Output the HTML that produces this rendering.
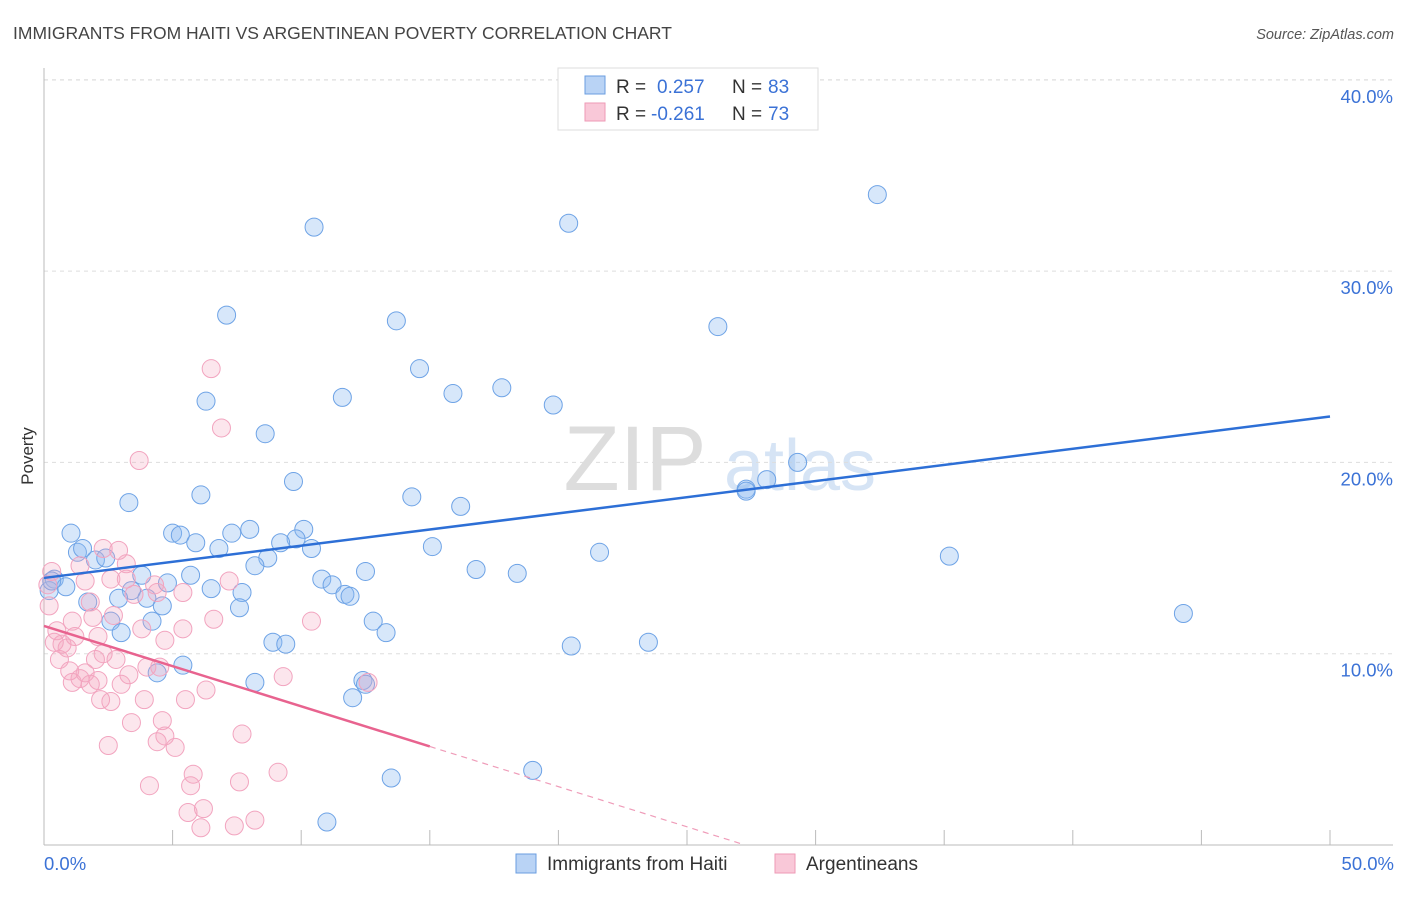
<!DOCTYPE html>
<html><head><meta charset="utf-8"><style>
body{margin:0;background:#fff;font-family:"Liberation Sans",sans-serif}
svg text{font-family:"Liberation Sans",sans-serif}
</style></head><body>
<svg id="c" width="1406" height="892" xmlns="http://www.w3.org/2000/svg">
<text x="13" y="39" font-size="17.5" fill="#444">IMMIGRANTS FROM HAITI VS ARGENTINEAN POVERTY CORRELATION CHART</text>
<text x="1394" y="39" font-size="14.5" fill="#555" font-style="italic" text-anchor="end">Source: ZipAtlas.com</text>
<text x="33" y="456" font-size="17" fill="#333" text-anchor="middle" transform="rotate(-90 33 456)">Poverty</text>
<g id="wm"><text x="635" y="490" font-size="92" fill="#ddd" font-family="Liberation Serif" text-anchor="middle">ZIP</text><text x="800" y="490" font-size="72" fill="#d6e4f5" text-anchor="middle">atlas</text></g>
<g id="grid"></g><g id="axes"></g><g id="marks"></g><g id="lines"></g>
<g>
<rect x="558" y="68" width="260" height="62" fill="#fff" stroke="#ddd"/>
<rect x="585" y="76" width="20" height="18" fill="#b9d3f5" stroke="#6a9ee0"/>
<rect x="585" y="103" width="20" height="18" fill="#f9c8d8" stroke="#ee9ab6"/>
<text x="616" y="93" font-size="19" fill="#333">R =</text><text x="657" y="93" font-size="19" fill="#3b72d6">0.257</text>
<text x="732" y="93" font-size="19" fill="#333">N =</text><text x="768" y="93" font-size="19" fill="#3b72d6">83</text>
<text x="616" y="120" font-size="19" fill="#333">R =</text><text x="651" y="120" font-size="19" fill="#3b72d6">-0.261</text>
<text x="732" y="120" font-size="19" fill="#333">N =</text><text x="768" y="120" font-size="19" fill="#3b72d6">73</text>
</g>
<g>
<rect x="516" y="854" width="20" height="19" fill="#b9d3f5" stroke="#6a9ee0"/>
<text x="547" y="870" font-size="19" fill="#333">Immigrants from Haiti</text>
<rect x="775" y="854" width="20" height="19" fill="#f9c8d8" stroke="#ee9ab6"/>
<text x="806" y="870" font-size="19" fill="#333">Argentineans</text>
</g>
</svg>
<script>
const yTicks=[10,20,30,40];
const yTickLabels=["10.0%","20.0%","30.0%","40.0%"];
const xTickLabels=["0.0%","50.0%"];
const haitiX=[32.4,20.4,10.5,7.1,13.7,26.2,14.6,17.8,15.9,11.6,6.3,19.8,8.6,29.3,28.1,27.3,27.3,9.7,6.1,14.3,3.3,16.2,1.05,5.0,5.3,8.0,7.3,10.1,9.8,5.9,6.8,9.2,10.4,15.1,21.6,35.2,1.3,1.5,8.7,2.0,2.4,8.2,12.5,16.8,18.4,3.8,5.7,10.8,11.2,4.8,0.4,0.85,0.2,6.5,7.7,3.4,11.7,11.9,2.9,4.0,1.7,4.6,7.6,44.3,12.8,4.2,2.6,3.0,13.3,8.9,9.4,20.5,23.5,5.4,4.4,8.2,12.4,12.5,12.0,19.0,13.5,11.0,0.3];
const haitiY=[34.0,32.5,32.3,27.7,27.4,27.1,24.9,23.9,23.6,23.4,23.2,23.0,21.5,20.0,19.1,18.6,18.5,19.0,18.3,18.2,17.9,17.7,16.3,16.3,16.2,16.5,16.3,16.5,16.0,15.8,15.5,15.8,15.5,15.6,15.3,15.1,15.3,15.5,15.0,14.9,15.0,14.6,14.3,14.4,14.2,14.1,14.1,13.9,13.6,13.7,13.9,13.5,13.3,13.4,13.2,13.3,13.1,13.0,12.9,12.9,12.7,12.5,12.4,12.1,11.7,11.7,11.7,11.1,11.1,10.6,10.5,10.4,10.6,9.4,9.0,8.5,8.6,8.4,7.7,3.9,3.5,1.2,13.8];
const argX=[6.5,6.9,3.7,2.9,2.3,3.2,1.4,0.3,0.15,2.6,3.2,1.6,4.3,7.2,3.5,4.4,5.4,1.8,0.2,1.9,2.7,6.6,10.4,1.1,0.5,3.8,5.4,1.2,0.4,2.1,4.7,0.7,0.9,2.3,2.8,0.6,2.0,4.0,1.0,1.6,4.5,1.4,2.1,3.3,9.3,12.6,1.1,1.8,3.0,6.3,2.2,2.6,3.9,5.5,3.4,4.6,7.7,4.7,4.4,5.1,2.5,5.8,9.1,7.6,4.1,5.7,6.2,5.6,8.2,6.1,7.4];
const argY=[24.9,21.8,20.1,15.4,15.5,14.7,14.6,14.3,13.6,13.9,13.9,13.8,13.6,13.8,13.1,13.2,13.2,12.7,12.5,11.9,12.0,11.8,11.7,11.7,11.2,11.3,11.3,10.9,10.6,10.9,10.7,10.5,10.3,10.0,9.7,9.7,9.7,9.3,9.1,9.0,9.3,8.7,8.6,8.9,8.8,8.5,8.5,8.4,8.4,8.1,7.6,7.5,7.6,7.6,6.4,6.5,5.8,5.7,5.4,5.1,5.2,3.7,3.8,3.3,3.1,3.1,1.9,1.7,1.3,0.9,1.0];
const haitiTrend=[13.96,22.4];
const argTrend=[11.45,-0.42];
const argSolidEnd=15, argDashEnd=27.1;
const PL=44,PR=1330;
const sx=v=>PL+v*(PR-PL)/50, sy=v=>845-v*19.13;
const NS="http://www.w3.org/2000/svg";
function mk(p,t,a){const e=document.createElementNS(NS,t);for(const k in a)e.setAttribute(k,a[k]);document.getElementById(p).appendChild(e);return e;}
yTicks.forEach((t,i)=>{
 const g=mk('grid','line',{x1:PL,x2:1393,y1:sy(t),y2:sy(t),stroke:'#ddd','stroke-dasharray':'4,4'});
 
 
 const tx=mk('grid','text',{x:1393,y:sy(t)+23,'font-size':18.5,fill:'#3b72d6','text-anchor':'end'});
 tx.textContent=yTickLabels[i];
 
 
});
const topLine=mk('grid','line',{x1:PL,x2:1393,y1:80,y2:80,stroke:'#ddd','stroke-dasharray':'4,4'});


const ya=mk('axes','line',{x1:PL,x2:PL,y1:68,y2:845,stroke:'#bbb'});


const xa=mk('axes','line',{x1:PL,x2:1393,y1:845,y2:845,stroke:'#bbb'});


for(let i=1;i<=10;i++){const t=mk('axes','line',{x1:sx(i*5),x2:sx(i*5),y1:830,y2:845,stroke:'#bbb'});
 
 }
[[0,'start',44],[50,'end',1394]].forEach((d,i)=>{const t=mk('axes','text',{x:d[2],y:870,'font-size':18.5,fill:'#3b72d6','text-anchor':d[1]});t.textContent=xTickLabels[i];
 
 });
haitiX.forEach((x,i)=>{const c=mk('marks','circle',{cx:sx(x),cy:sy(haitiY[i]),r:9,fill:'rgba(140,185,240,0.35)',stroke:'#6ea3e6','stroke-width':1});
 
 });
argX.forEach((x,i)=>{const c=mk('marks','circle',{cx:sx(x),cy:sy(argY[i]),r:9,fill:'rgba(245,165,192,0.28)',stroke:'#f2a4bf','stroke-width':1});
 
 });
const bl=mk('lines','line',{x1:sx(0),y1:sy(haitiTrend[0]),x2:sx(50),y2:sy(haitiTrend[1]),stroke:'#2d6fd6','stroke-width':2.5});


const af=x=>argTrend[0]+argTrend[1]*x;
const pl=mk('lines','line',{x1:sx(0),y1:sy(af(0)),x2:sx(argSolidEnd),y2:sy(af(argSolidEnd)),stroke:'#e8638f','stroke-width':2.5});


const pd=mk('lines','line',{x1:sx(argSolidEnd),y1:sy(af(argSolidEnd)),x2:sx(argDashEnd),y2:sy(af(argDashEnd)),stroke:'#ef9cb9','stroke-width':1.2,'stroke-dasharray':'6,5'});


</script>
</body></html>
